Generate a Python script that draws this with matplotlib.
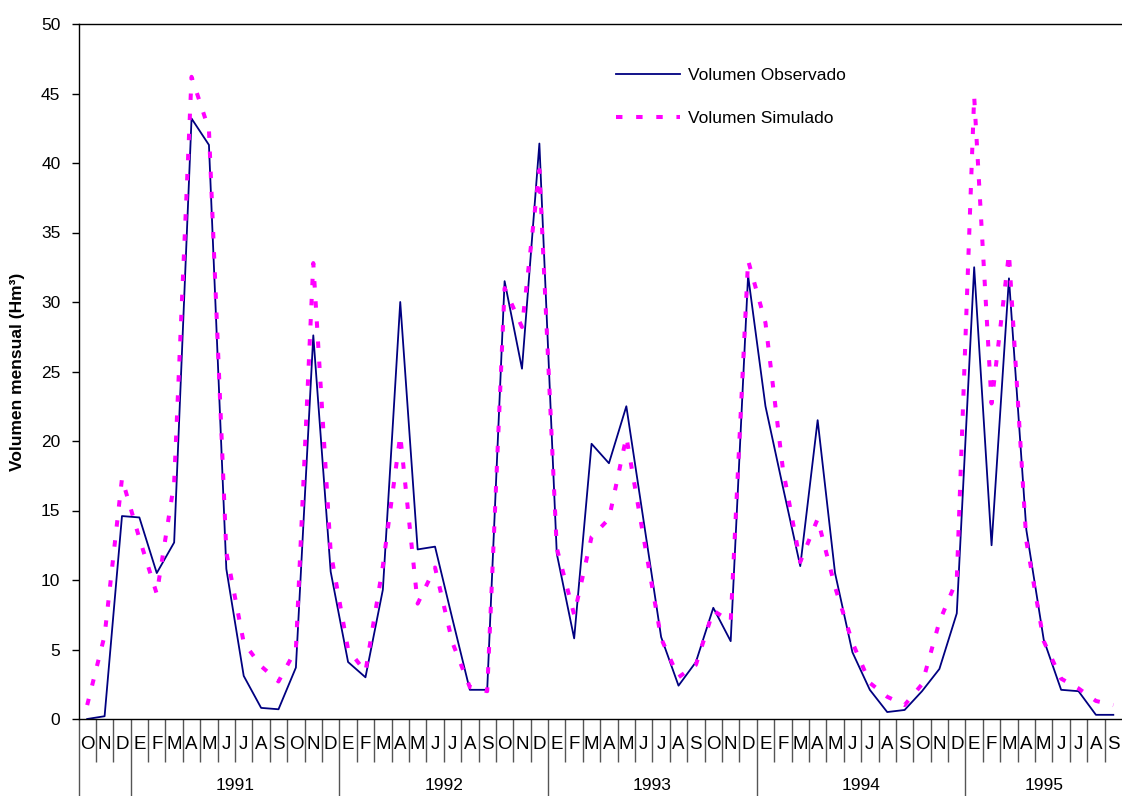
import numpy as np
import matplotlib
matplotlib.use("Agg")
import matplotlib.pyplot as plt

plt.rcParams['font.family'] = ['Liberation Sans', 'DejaVu Sans']

# ======== DATOS (Oct 1990 - Sep 1995) ========
meses = ["O", "N", "D"] + ["E", "F", "M", "A", "M", "J", "J", "A", "S", "O", "N", "D"] * 4 \
        + ["E", "F", "M", "A", "M", "J", "J", "A", "S"]
anios = ["1991", "1992", "1993", "1994", "1995"]
inicio_anio = [3, 15, 27, 39, 51]   # indice del primer mes (E) de cada año

observado = [0.0, 0.2, 14.6, 14.5, 10.5, 12.7, 43.2, 41.3, 10.8, 3.1,
             0.8, 0.7, 3.7, 27.6, 10.6, 4.1, 3.0, 9.3, 30.0, 12.2,
             12.4, 7.2, 2.1, 2.1, 31.5, 25.2, 41.4, 11.9, 5.8, 19.8,
             18.4, 22.5, 14.2, 5.9, 2.4, 4.1, 8.0, 5.6, 31.9, 22.5,
             16.7, 11.0, 21.5, 10.5, 4.8, 2.1, 0.5, 0.65, 2.0, 3.6,
             7.6, 32.5, 12.5, 31.7, 13.6, 5.7, 2.1, 2.0, 0.3, 0.3]

simulado = [1.0, 6.0, 17.3, 13.0, 9.0, 17.0, 46.2, 42.4, 12.0, 5.5,
            3.8, 2.7, 5.0, 32.8, 12.0, 5.0, 3.4, 11.0, 20.4, 8.3,
            10.9, 5.5, 2.3, 2.0, 31.0, 28.2, 39.5, 12.3, 7.5, 13.1,
            14.4, 20.3, 13.0, 5.8, 3.0, 3.9, 7.8, 7.0, 33.0, 28.5,
            18.0, 11.3, 14.4, 9.5, 5.5, 2.6, 1.6, 1.0, 2.5, 7.0,
            10.0, 44.8, 22.7, 33.5, 12.8, 5.6, 2.9, 2.2, 1.3, 1.0]

x = np.arange(len(meses)) + 0.5

# ======== FIGURA ========
fig = plt.figure(figsize=(11.22, 7.96), dpi=100)
ax = fig.add_axes([78.5 / 1122, 1 - 719 / 796, 1 - 78.5 / 1122, (719 - 24) / 796])

ax.plot(x, observado, color='#000080', lw=1.3, label='Volumen Observado')
ax.plot(x, simulado, color='#FF00FF', lw=2.9, linestyle=(0, (1.6, 3.4)),
        label='Volumen Simulado')

ax.set_xlim(0, len(meses))
ax.set_ylim(0, 50)
ax.set_yticks(np.arange(0, 51, 5))
ax.tick_params(axis='y', length=5, width=1, pad=8, labelsize=12.5)
ax.set_xticks([])

ax.spines['right'].set_visible(False)
for s in ['left', 'bottom', 'top']:
    ax.spines[s].set_linewidth(1.0)

# ======== EJE X: meses y años ========
trans = ax.get_xaxis_transform()
bordes = [b for b in range(1, len(meses)) if b not in inicio_anio]
ax.vlines(bordes, -0.062, 0, transform=trans, clip_on=False, color='#555555', lw=1)
ax.vlines([0] + inicio_anio, -0.12, 0, transform=trans, clip_on=False, color='#555555', lw=1)

for xi, m in zip(x, meses):
    ax.text(xi, -0.0374, m, transform=trans, ha='center', va='center', fontsize=13.5)

fin_anio = inicio_anio[1:] + [len(meses)]
for a, i0, i1 in zip(anios, inicio_anio, fin_anio):
    ax.text((i0 + i1) / 2, -0.095, a, transform=trans, ha='center', va='center', fontsize=12.5)

fig.text(18 / 1122, 1 - 371.5 / 796, 'Volumen mensual (Hm³)', rotation=90,
         ha='center', va='center', fontsize=12.5, fontweight='bold')

ax.legend(loc='upper left', bbox_to_anchor=(616 / 1122, 1 - 68 / 796),
          bbox_transform=fig.transFigure, frameon=False, fontsize=12.5,
          handlelength=3.7, handletextpad=0.45, labelspacing=1.6,
          borderpad=0, borderaxespad=0)

fig.savefig('out.png', dpi=100)
